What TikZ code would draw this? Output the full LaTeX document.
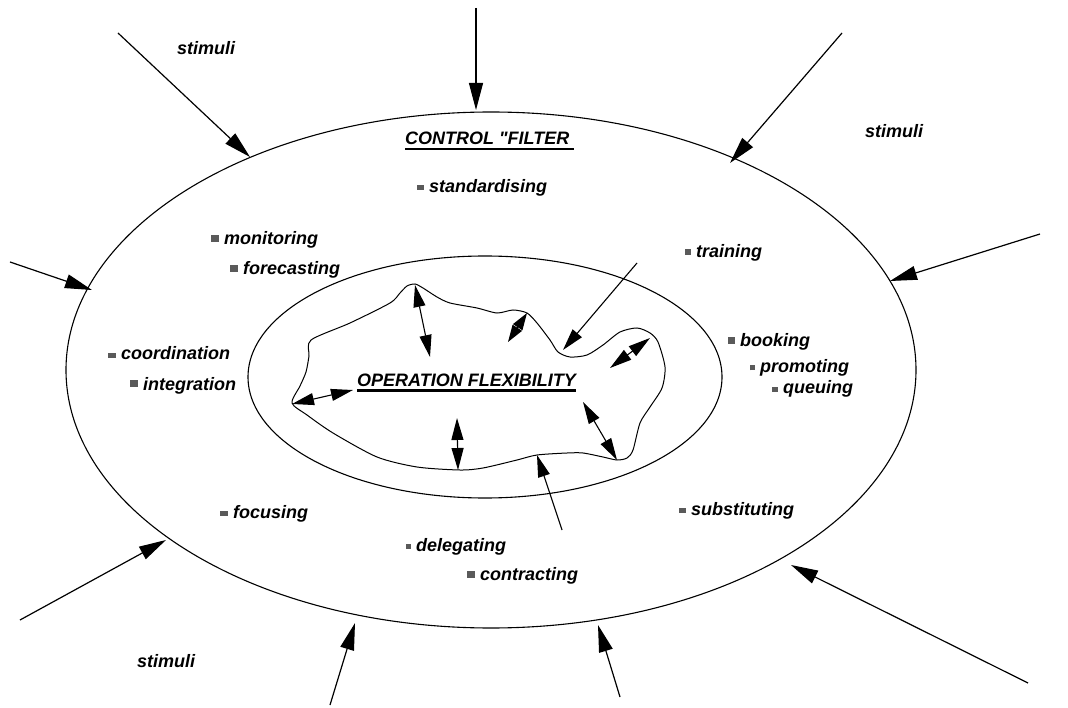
\documentclass[tikz,border=0pt]{standalone}
\usepackage{fontspec}
\setmainfont{Liberation Sans}[Ligatures=TeXOff]
\usetikzlibrary{shapes.geometric,arrows.meta}
\definecolor{bulgray}{RGB}{90,90,90}
% bullet: width, height
\newcommand{\sq}[2]{\llap{\textcolor{bulgray}{\rule[2.5pt]{#1pt}{#2pt}}\hspace{5pt}}}
\newcommand{\ulbar}[1]{\setbox0\hbox{#1}\rlap{\rule[-5.5pt]{\wd0}{2.8pt}}\box0}
\begin{document}
\begin{tikzpicture}[x=1pt,y=-1pt,
  lbl/.style={anchor=base west,inner sep=0pt,font=\fontsize{18}{20}\selectfont\bfseries\itshape},
  ring/.style={draw,ellipse,inner sep=0pt,line width=1.1pt},
  stim/.style={line width=1.2pt,-{Triangle[length=27pt,width=14pt]}},
  dbl/.style={line width=1.1pt,{Triangle[length=22pt,width=12pt]}-{Triangle[length=22pt,width=12pt]}},
  dbls/.style={line width=1.1pt,{Triangle[length=17pt,width=11pt]}-{Triangle[length=17pt,width=11pt]}},
  sgl/.style={line width=1.1pt,-{Triangle[length=22pt,width=12pt]}}]
\useasboundingbox (0,0) rectangle (1068,708);

% rings
\node[ring,minimum width=850pt,minimum height=516pt] (outer) at (491,370) {};
\node[ring,minimum width=474pt,minimum height=242pt] (inner) at (485,377) {};

% blob
\draw[line width=1pt] plot[smooth cycle,tension=0.45] coordinates {
 (292,403) (300,386) (306,372) (309,356) (311,340) (350,323) (390,303) (400,293)
 (407,286) (415,284) (423,288) (437,297) (450,303) (477,308) (497,313) (513,310)
 (527,313) (537,323) (550,340) (558,352) (570,357) (587,355) (603,345) (620,332)
 (637,328) (650,333) (658,342) (665,367) (662,388) (650,407) (640,423) (633,450)
 (627,458) (617,460) (603,457) (583,453) (567,453) (537,455) (517,460) (483,468)
 (460,470) (417,467) (377,457) (333,433) (307,415)};

% stimuli arrows (outside)
\coordinate (s1a) at (118,33);   \coordinate (s1b) at (250,157);
\coordinate (s2a) at (476,8);    \coordinate (s2b) at (476,110);
\coordinate (s3a) at (842,33);   \coordinate (s3b) at (730,163);
\coordinate (s4a) at (1040,234); \coordinate (s4b) at (890,281);
\coordinate (s5a) at (10,262);   \coordinate (s5b) at (92,290);
\coordinate (s6a) at (20,620);   \coordinate (s6b) at (166,540);
\coordinate (s7a) at (330,705);  \coordinate (s7b) at (355,623);
\coordinate (s8a) at (620,697);  \coordinate (s8b) at (598,625);
\coordinate (s9a) at (1028,683); \coordinate (s9b) at (791,565);
\foreach \i in {1,...,9} \draw[stim] (s\i a) -- (s\i b);

% inner arrows
\coordinate (a1a) at (415,285); \coordinate (a1b) at (430,357);
\coordinate (a2a) at (527,313); \coordinate (a2b) at (508,342);
\coordinate (a4a) at (650,338); \coordinate (a4b) at (610,368);
\coordinate (a5a) at (292,404); \coordinate (a5b) at (353,390);
\coordinate (a6a) at (457,418); \coordinate (a6b) at (458,470);
\coordinate (a7a) at (583,402); \coordinate (a7b) at (617,460);
\draw[dbl] (a1a) -- (a1b);
\draw[dbls] (a2a) -- (a2b);
\draw[dbl] (a4a) -- (a4b);
\draw[dbl] (a5a) -- (a5b);
\draw[dbl] (a6a) -- (a6b);
\draw[dbl] (a7a) -- (a7b);
\coordinate (a3a) at (637,263); \coordinate (a3b) at (563,350);
\coordinate (a8a) at (562,530); \coordinate (a8b) at (537,455);
\draw[sgl] (a3a) -- (a3b);
\draw[sgl] (a8a) -- (a8b);

% titles
\node[lbl] (title) at (405,145) {\ulbar{CONTROL "FILTER\hspace{5pt}}};
\node[lbl] (core) at (357,386) {\ulbar{OPERATION FLEXIBILITY}};

% stimuli labels
\node[lbl] (st1) at (177,55) {stimuli};
\node[lbl] (st2) at (865,138) {stimuli};
\node[lbl] (st3) at (137,667) {stimuli};

% items
\node[lbl] (i1) at (429,193) {\sq{7}{5}standardising};
\node[lbl] (i2) at (224,245) {\sq{8}{7}monitoring};
\node[lbl] (i3) at (243,275) {\sq{8}{7}forecasting};
\node[lbl] (i4) at (696,258) {\sq{6}{6}training};
\node[lbl] (i5) at (121,360) {\sq{8}{5}coordination};
\node[lbl] (i6) at (143,390) {\sq{8}{7}integration};
\node[lbl] (i7) at (740,347) {\sq{7}{7}booking};
\node[lbl] (i8) at (760,373) {\sq{5}{5}promoting};
\node[lbl] (i9) at (783,394) {\sq{6}{5}queuing};
\node[lbl] (i10) at (233,518) {\sq{8}{5}focusing};
\node[lbl] (i11) at (691,515) {\sq{7}{5}substituting};
\node[lbl] (i12) at (416,551) {\sq{5}{5}delegating};
\node[lbl] (i13) at (480,580) {\sq{8}{7}contracting};
\end{tikzpicture}
\end{document}
